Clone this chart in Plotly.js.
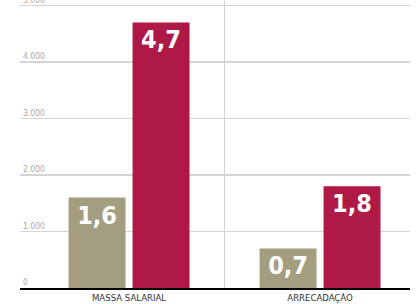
<!DOCTYPE html>
<html>
<head>
<meta charset="utf-8">
<script src="https://cdn.plot.ly/plotly-3.0.1.min.js"></script>
<style>html,body{margin:0;padding:0;background:#fff;overflow:hidden;}#chart{width:418px;height:324px;margin-top:-20px;}</style>
</head>
<body>
<div id="chart"></div>
<script>
const categories = ["MASSA SALARIAL", "ARRECADAÇÃO"];
const seriesA = [1600, 700];
const seriesB = [4700, 1800];
const labelsA = ["1,6", "0,7"];
const labelsB = ["4,7", "1,8"];
const tickVals = [0, 1000, 2000, 3000, 4000, 5000];
const tickText = ["0", "1.000", "2.000", "3.000", "4.000", "5.000"];

const barFont = {family: "DejaVu Sans Condensed, DejaVu Sans", size: 25, color: "#ffffff", weight: "bold"};

const traces = [
  {type: "bar", x: [0, 1], y: seriesA, text: labelsA, textposition: "inside", insidetextanchor: "end",
   textangle: 0, textfont: barFont, marker: {color: "#a39e7f"}, hoverinfo: "none", name: "A"},
  {type: "bar", x: [0, 1], y: seriesB, text: labelsB, textposition: "inside", insidetextanchor: "end",
   textangle: 0, textfont: barFont, marker: {color: "#ae1945"}, hoverinfo: "none", name: "B"}
];

const layout = {
  width: 418, height: 324,
  margin: {l: 20, r: 8, t: 0, b: 16, pad: 0},
  paper_bgcolor: "#ffffff", plot_bgcolor: "#ffffff",
  showlegend: false,
  barmode: "group", bargap: 0.33, bargroupgap: 0.11,
  xaxis: {
    range: [-0.571, 1.471], tickvals: [0, 1], ticktext: categories,
    showgrid: false, zeroline: false, ticks: "", showline: true, linecolor: "#000000", linewidth: 2,
    tickfont: {family: "Liberation Sans Narrow, DejaVu Sans Condensed", size: 9.5, color: "#333333"},
    fixedrange: true
  },
  yaxis: {
    range: [0, 5451], tickvals: tickVals, ticktext: tickText,
    ticklabelposition: "inside top", showgrid: true, gridcolor: "#d4d4d4", gridwidth: 1.2,
    zeroline: false, ticks: "", showline: false,
    tickfont: {family: "DejaVu Sans Condensed", size: 8.5, color: "#aaaaaa"}, fixedrange: true
  },
  shapes: [
    {type: "line", xref: "x", yref: "paper", x0: 0.5, x1: 0.5, y0: 0, y1: 1,
     line: {color: "#d0d0d0", width: 1}, layer: "below"}
  ]
};

Plotly.newPlot("chart", traces, layout, {displayModeBar: false, staticPlot: true});
</script>
</body>
</html>
